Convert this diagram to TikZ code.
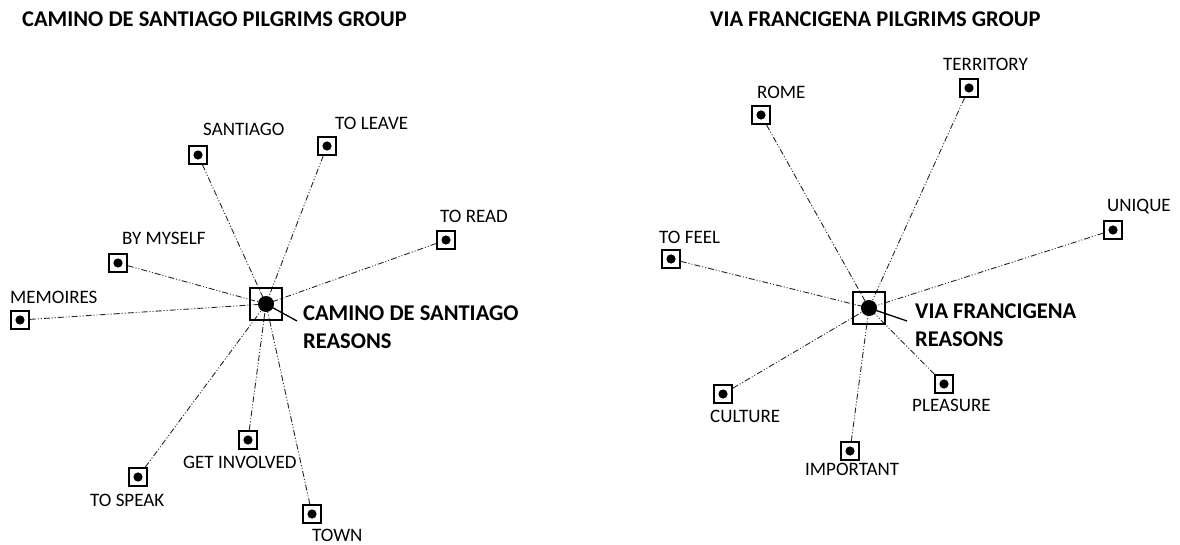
\documentclass[tikz,border=0pt]{standalone}
\usepackage{fontspec}
\setmainfont{Carlito}
\usetikzlibrary{backgrounds}
\begin{document}
\begin{tikzpicture}[x=1pt,y=-1pt,
  item/.style={draw,line width=1.6pt,minimum size=18pt,inner sep=0pt,
    path picture={\fill (path picture bounding box.center) circle (4.6pt);}},
  hub/.style={draw,line width=2.6pt,minimum size=32pt,inner sep=0pt,
    path picture={\fill (path picture bounding box.center) circle (8pt);}},
  link/.style={draw=black!85,line width=0.9pt,
    dash pattern=on 6pt off 2pt on 1pt off 2pt on 1pt off 2pt},
  word/.style={anchor=west,inner sep=0pt,font=\fontsize{19}{22}\selectfont},
  head/.style={anchor=west,inner sep=0pt,font=\bfseries\fontsize{22.5}{26}\selectfont},
  big/.style={anchor=west,inner sep=0pt,font=\bfseries\fontsize{22.5}{26}\selectfont,align=left},
  pointer/.style={line width=1.3pt}]
\useasboundingbox (0,0) rectangle (1180,545);

% ---- Camino de Santiago ----
\node[head] (t1) at (22,19) {CAMINO DE SANTIAGO PILGRIMS GROUP};
\node[hub] (cs) at (266,304) {};
\coordinate (csdot) at (266,304);
\coordinate (csend) at (297,321);
\node[big] (csl) at (303,313) {CAMINO DE SANTIAGO};
\node[big] (csl2) at (303,341) {REASONS};

\node[item] (santiago) at (198,155) {};
\node[item] (leave) at (327,146) {};
\node[item] (read) at (446,240) {};
\node[item] (myself) at (118,263) {};
\node[item] (memoires) at (20,320) {};
\node[item] (speak) at (138,477) {};
\node[item] (involved) at (248,440) {};
\node[item] (town) at (312,514) {};

\node[word] (lsantiago) at (203,129) {SANTIAGO};
\node[word] (lleave) at (335,123) {TO LEAVE};
\node[word] (lread) at (440,216) {TO READ};
\node[word] (lmyself) at (122,238) {BY MYSELF};
\node[word] (lmemoires) at (10,297) {MEMOIRES};
\node[word] (lspeak) at (90,500) {TO SPEAK};
\node[word] (linvolved) at (183,462) {GET INVOLVED};
\node[word] (ltown) at (312,535) {TOWN};

\begin{scope}[on background layer]
\foreach \n in {santiago,leave,read,myself,memoires,speak,involved,town}
  \draw[link] (\n) -- (cs.center);
\end{scope}
\draw[pointer] (csdot) -- (csend);

% ---- Via Francigena ----
\node[head] (t2) at (710,19) {VIA FRANCIGENA PILGRIMS GROUP};
\node[hub] (vf) at (869,308) {};
\coordinate (vfdot) at (869,308);
\coordinate (vfend) at (907,321);
\node[big] (vfl) at (915,311) {VIA FRANCIGENA};
\node[big] (vfl2) at (915,339) {REASONS};

\node[item] (rome) at (761,115) {};
\node[item] (territory) at (969,88) {};
\node[item] (unique) at (1113,230) {};
\node[item] (feel) at (671,259) {};
\node[item] (culture) at (723,394) {};
\node[item] (pleasure) at (944,384) {};
\node[item] (important) at (850,451) {};

\node[word] (lrome) at (757,92) {ROME};
\node[word] (lterritory) at (943,64) {TERRITORY};
\node[word] (lunique) at (1107,207) {UNIQUE};
\node[word] (lfeel) at (659,237) {TO FEEL};
\node[word] (lculture) at (710,416) {CULTURE};
\node[word] (lpleasure) at (912,405) {PLEASURE};
\node[word] (limportant) at (805,469) {IMPORTANT};

\begin{scope}[on background layer]
\foreach \n in {rome,territory,unique,feel,culture,pleasure,important}
  \draw[link] (\n) -- (vf.center);
\end{scope}
\draw[pointer] (vfdot) -- (vfend);
\end{tikzpicture}
\end{document}
